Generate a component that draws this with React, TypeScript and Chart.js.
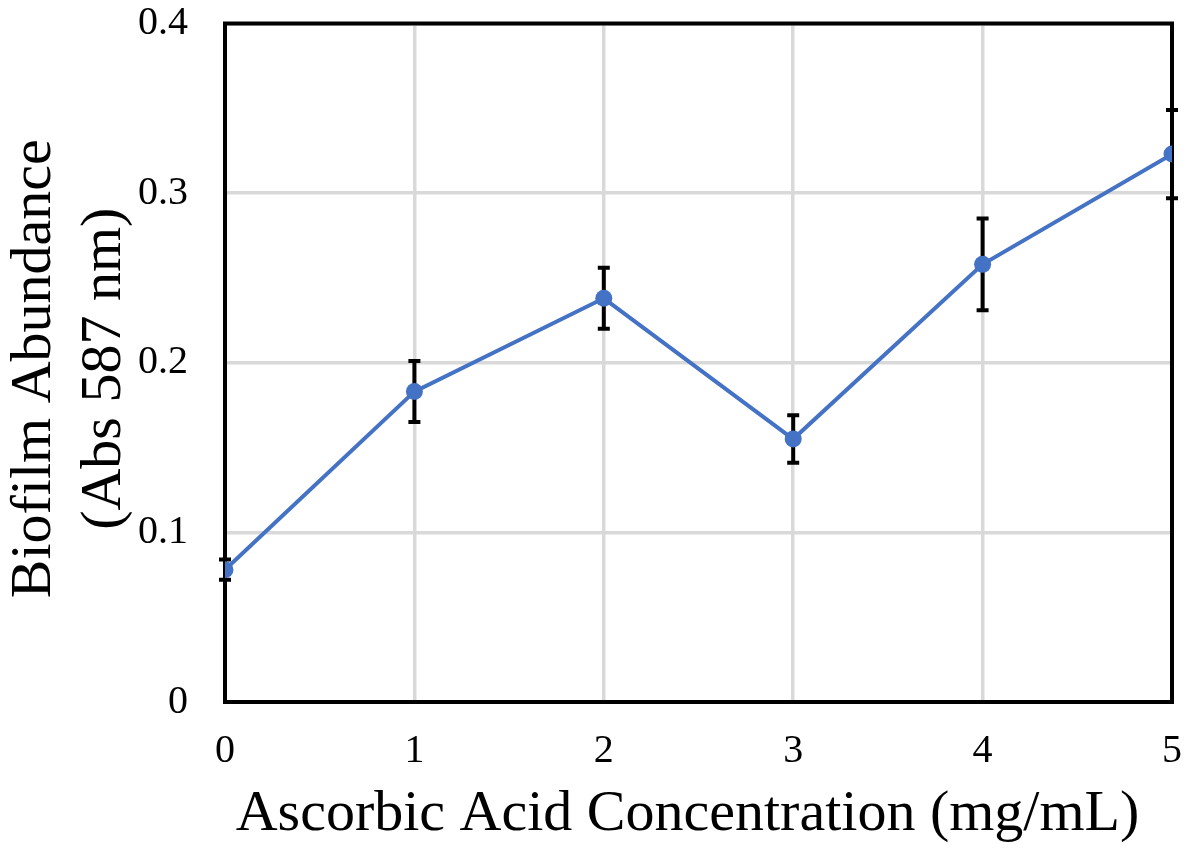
import React, { useEffect, useRef } from "react";
import { Chart, registerables } from "chart.js";

Chart.register(...registerables);

// Ascorbic acid concentration (mg/mL)
const concentrations = [0, 1, 2, 3, 4, 5];
// Mean biofilm abundance (Abs 587 nm)
const abundance = [0.078, 0.183, 0.238, 0.155, 0.258, 0.323];
// Error bar half-lengths
const abundanceError = [0.006, 0.018, 0.018, 0.014, 0.027, 0.026];

const xTickLabels = ["0", "1", "2", "3", "4", "5"];
const yTickLabels = ["0", "0.1", "0.2", "0.3", "0.4"];

const xTitle = "Ascorbic Acid Concentration (mg/mL)";
const yTitle = ["Biofilm Abundance", "(Abs 587 nm)"];

const SERIF = "'Liberation Serif', 'Times New Roman', serif";
const TITLE_SIZE = 58;
const TITLE_LINE = TITLE_SIZE * 1.2;

// Black frame around the plot area, drawn over the grid but under the data
const framePlugin = {
  id: "plotFrame",
  beforeDatasetsDraw(chart: any) {
    const { ctx, chartArea } = chart;
    ctx.save();
    ctx.strokeStyle = "#000000";
    ctx.lineWidth = 4;
    ctx.strokeRect(
      chartArea.left,
      chartArea.top,
      chartArea.right - chartArea.left,
      chartArea.bottom - chartArea.top
    );
    ctx.restore();
  },
};

// Vertical error bars with caps, placed through the chart's scales
const errorBarPlugin = {
  id: "errorBars",
  beforeDatasetsDraw(chart: any) {
    const { ctx } = chart;
    const xs = chart.scales.x;
    const ys = chart.scales.y;
    ctx.save();
    ctx.strokeStyle = "#000000";
    ctx.lineWidth = 4;
    ctx.lineCap = "butt";
    concentrations.forEach((c, i) => {
      const px = xs.getPixelForValue(c);
      const hi = ys.getPixelForValue(abundance[i] + abundanceError[i]);
      const lo = ys.getPixelForValue(abundance[i] - abundanceError[i]);
      ctx.beginPath();
      ctx.moveTo(px, hi - 2);
      ctx.lineTo(px, lo + 2);
      ctx.moveTo(px - 6, hi);
      ctx.lineTo(px + 6, hi);
      ctx.moveTo(px - 6, lo);
      ctx.lineTo(px + 6, lo);
      ctx.stroke();
    });
    ctx.restore();
  },
};

// Axis titles, centred slightly off the plot-area centre
const axisTitlePlugin = {
  id: "axisTitles",
  afterDraw(chart: any) {
    const { ctx, chartArea, height } = chart;
    ctx.save();
    ctx.fillStyle = "#000000";
    ctx.font = `${TITLE_SIZE}px ${SERIF}`;
    ctx.textAlign = "center";
    ctx.textBaseline = "middle";

    const cx = (chartArea.left + chartArea.right) / 2 - 11;
    ctx.fillText(xTitle, cx, height - TITLE_LINE / 2);

    const cy = (chartArea.top + chartArea.bottom) / 2 + 6;
    ctx.translate(0, cy);
    ctx.rotate(-Math.PI / 2);
    yTitle.forEach((line, i) => {
      ctx.fillText(line, 0, TITLE_LINE / 2 + i * TITLE_LINE);
    });
    ctx.restore();
  },
};

export default function App() {
  const canvasRef = useRef<HTMLCanvasElement | null>(null);

  useEffect(() => {
    if (!canvasRef.current) return;
    const chart = new Chart(canvasRef.current, {
      type: "line",
      data: {
        datasets: [
          {
            data: concentrations.map((c, i) => ({ x: c, y: abundance[i] })),
            borderColor: "#4472C4",
            backgroundColor: "#4472C4",
            borderWidth: 4,
            pointRadius: 8.5,
            pointHoverRadius: 8.5,
            pointBorderWidth: 0,
            tension: 0,
            fill: false,
          },
        ],
      },
      options: {
        responsive: false,
        animation: false,
        layout: { padding: { left: 0, right: 18, top: 23.5, bottom: 0 } },
        plugins: {
          legend: { display: false },
          tooltip: { enabled: false },
        },
        scales: {
          x: {
            type: "linear",
            min: 0,
            max: 5,
            afterFit(scale: any) {
              scale.height = 148;
              scale.paddingLeft = 0;
              scale.paddingRight = 0;
            },
            ticks: {
              stepSize: 1,
              padding: 25,
              color: "#000000",
              font: { family: SERIF, size: 40 },
              callback: (_v: any, i: number) => xTickLabels[i],
            },
            grid: { color: "#d9d9d9", lineWidth: 3.5, drawTicks: false },
            border: { display: false },
          },
          y: {
            type: "linear",
            min: 0,
            max: 0.4,
            afterFit(scale: any) {
              scale.width = 225;
              scale.paddingTop = 0;
              scale.paddingBottom = 0;
            },
            ticks: {
              stepSize: 0.1,
              padding: 37,
              color: "#000000",
              font: { family: SERIF, size: 40 },
              callback: (_v: any, i: number) => yTickLabels[i],
            },
            grid: { color: "#d9d9d9", lineWidth: 3.5, drawTicks: false },
            border: { display: false },
          },
        },
      },
      plugins: [framePlugin, errorBarPlugin, axisTitlePlugin],
    });
    return () => chart.destroy();
  }, []);

  return (
    <div style={{ position: "absolute", left: 0, top: 0, width: 1190, height: 850, background: "#ffffff" }}>
      <canvas ref={canvasRef} width={1190} height={850} style={{ display: "block" }} />
    </div>
  );
}
